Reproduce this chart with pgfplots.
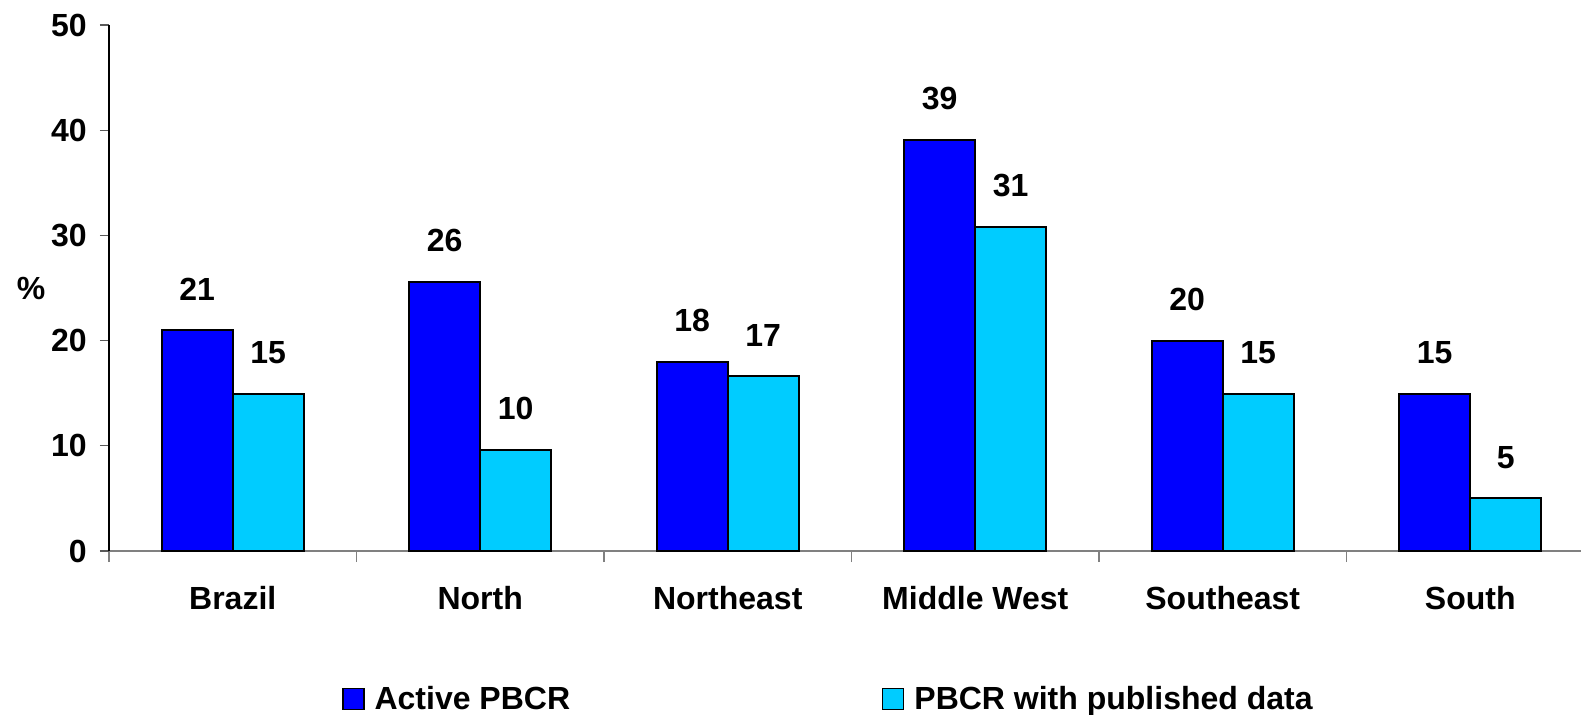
\documentclass[border=0pt]{standalone}
\usepackage{fontspec}
\setmainfont{Liberation Sans}
\usepackage{pgfplots}
\pgfplotsset{compat=1.18}
\definecolor{barblue}{HTML}{0000FF}
\definecolor{barcyan}{HTML}{00CCFF}
\begin{document}
\begin{tikzpicture}
\path[use as bounding box] (-54.5pt,-81.5pt) rectangle (736pt,275.5pt);
\begin{axis}[
    at={(0,0)}, anchor=south west,
    scale only axis,
    width=742.5pt, height=263pt,
    ybar=0pt,
    bar width=35.5pt,
    xmin=-0.5, xmax=5.5,
    ymin=0, ymax=50,
    ytick={0,10,...,50},
    xtick={0,...,5},
    xticklabels={Brazil, North, Northeast, Middle West, Southeast, South},
    minor xtick={-0.5,0.5,...,5.5},
    axis x line=bottom, axis y line=left,
    tick align=outside,
    major x tick style={draw=none},
    minor x tick style={gray, line width=0.6pt},
    y tick style={gray!70!black, line width=0.6pt},
    minor tick length=5.5pt,
    major tick length=4.5pt,
    x axis line style={-, gray, line width=0.8pt},
    y axis line style={-, black, line width=0.6pt},
    font=\fontsize{16}{19}\selectfont\bfseries,
    tick label style={font=\fontsize{16}{19}\selectfont\bfseries},
    /pgf/number format/assume math mode=true,
    xticklabel style={inner sep=0pt, anchor=north, yshift=-13pt},
    yticklabel style={inner sep=0pt, anchor=east, xshift=-6.5pt},
    ylabel={\%},
    ylabel style={rotate=-90, anchor=center, at={(axis description cs:-0.0525,0.5)}},
    point meta=explicit symbolic,
    nodes near coords,
    every node near coord/.append style={inner sep=0pt, anchor=south, yshift=14.5pt,
        font=\fontsize{16}{19}\selectfont\bfseries},
    legend columns=2,
    legend image code/.code={\draw[#1, draw=black, line width=0.6pt] (0pt,-5.25pt) rectangle (10.5pt,5.25pt);},
    legend style={draw=none, fill=none, inner sep=0pt,
        at={(axis description cs:0.1569,-0.282)}, anchor=west,
        nodes={inner sep=0pt, anchor=west},
        font=\fontsize{16}{19}\selectfont\bfseries,
        /tikz/every odd column/.append style={column sep=5pt},
        /tikz/every even column/.append style={column sep=156pt}},
]
\addplot[fill=barblue, draw=black, line width=1pt] coordinates {
    (0,21.0) [21]
    (1,25.6) [26]
    (2,18.0) [18]
    (3,39.1) [39]
    (4,20.0) [20]
    (5,14.9) [15]
};
\addplot[fill=barcyan, draw=black, line width=1pt] coordinates {
    (0,14.9) [15]
    (1,9.6) [10]
    (2,16.6) [17]
    (3,30.8) [31]
    (4,14.9) [15]
    (5,5.0) [5]
};
\legend{Active PBCR, PBCR with published data}
\end{axis}
\end{tikzpicture}
\end{document}
